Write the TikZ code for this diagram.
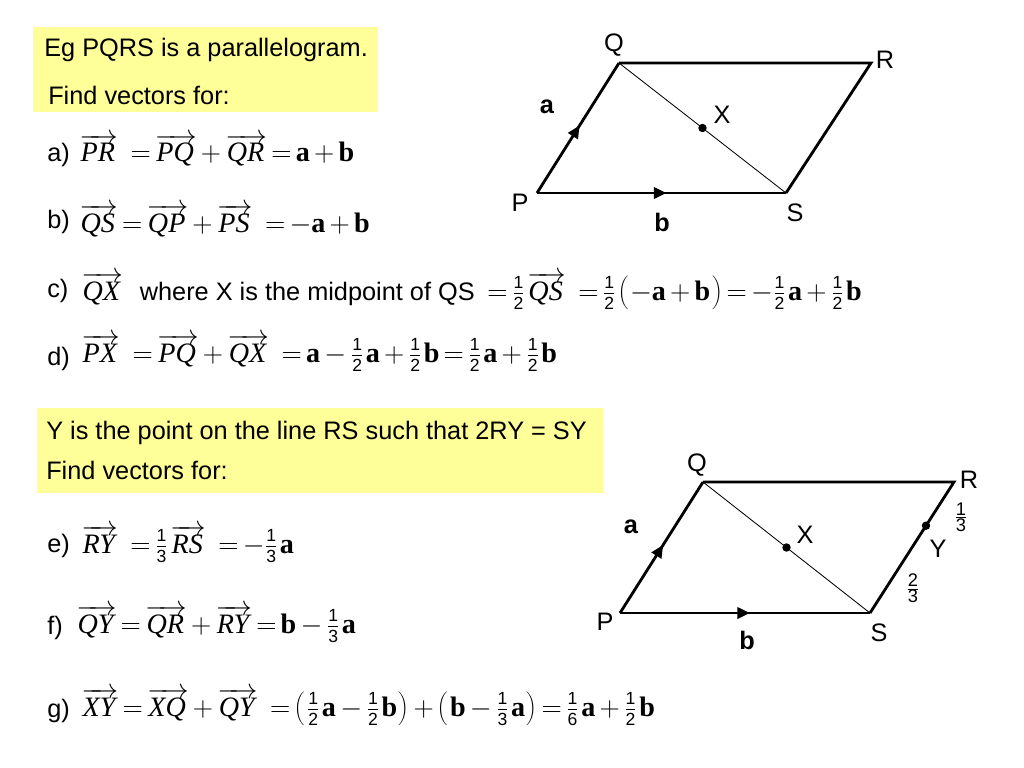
\documentclass[tikz,border=0pt]{standalone}
\usepackage{fix-cm}
\usepackage{fontspec}
\setmainfont{Liberation Sans}
\newfontfamily\tms{Liberation Serif}
\usetikzlibrary{calc,decorations.markings,arrows.meta}

\newcommand\vv[1]{$\overrightarrow{\hbox{\kern1pt\tms\itshape #1\kern2pt}}$}
\newcommand\bv[1]{{\tms\bfseries #1}}
\newcommand\fr[2]{$\frac{\hbox{\fontsize{12.5}{12}\selectfont #1}}{\hbox{\fontsize{12.5}{12}\selectfont #2}}$\kern1.5pt}
\newcommand\op[1]{\hspace{3pt}$#1$\hspace{3pt}}
\newcommand\lp{$\left(\rule[-8pt]{0pt}{25pt}\right.$}
\newcommand\rp{$\left.\rule[-8pt]{0pt}{25pt}\right)$}

\tikzset{
  txt/.style={font=\fontsize{18}{22}\selectfont, inner sep=0pt},
  eqn/.style={font=\fontsize{20}{24}\selectfont, inner sep=0pt, anchor=base west},
  lab/.style={txt, anchor=base west},
  side/.style={line width=2pt},
  diag/.style={line width=0.6pt},
  midarrow/.style={postaction={decorate,decoration={markings,
      mark=at position 0.52 with {\arrow{Triangle[length=9pt,width=8pt]}}}}},
  ptlabel/.style={txt},
  small/.style={font=\fontsize{13}{13}\selectfont, inner sep=0pt}
}

\begin{document}
\begin{tikzpicture}[x=0.025cm,y=-0.025cm]
\definecolor{hl}{rgb}{1,1,0.6}
\useasboundingbox (0,0) rectangle (1024,768);

% first question
\fill[hl] (33,27) rectangle (378,112);
\node[txt,anchor=west] (head1) at (44,50) {Eg PQRS is a parallelogram.};
\node[txt,anchor=west] (find1) at (48,95) {Find vectors for:};

\node[lab] (la) at (47,162) {a)};
\node[eqn] (eqa) at (79,162) {\vv{PR}\hspace{6pt}\op{=}\vv{PQ}\op{+}\vv{QR}\op{=}\bv{a}\op{+}\bv{b}};

\node[lab] (lb) at (47,228) {b)};
\node[eqn] (eqb) at (79,232) {\vv{QS}\op{=}\vv{QP}\op{+}\vv{PS}\hspace{6pt}\op{=}$-$\bv{a}\op{+}\bv{b}};

\node[lab] (lc) at (47,297) {c)};
\node[eqn] (eqc) at (81,300) {\vv{QX}\hspace{12pt}{\fontsize{18}{22}\selectfont where X is the midpoint of QS}\hspace{6pt}\op{=}\fr12\vv{QS}\hspace{6pt}\op{=}\fr12\lp$-$\bv{a}\op{+}\bv{b}\rp\op{=}$-$\fr12\bv{a}\op{+}\fr12\bv{b}};

\node[lab] (ld) at (47,365) {d)};
\node[eqn] (eqd) at (81,362) {\vv{PX}\hspace{6pt}\op{=}\vv{PQ}\op{+}\vv{QX}\hspace{6pt}\op{=}\bv{a}\op{-}\fr12\bv{a}\op{+}\fr12\bv{b}\op{=}\fr12\bv{a}\op{+}\fr12\bv{b}};

% second question
\fill[hl] (37,408) rectangle (603,493);
\node[txt,anchor=west] (head2) at (46,433) {Y is the point on the line RS such that 2RY = SY};
\node[txt,anchor=west] (find2) at (46,470) {Find vectors for:};

\node[lab] (le) at (47,552) {e)};
\node[eqn] (eqe) at (81,553) {\vv{RY}\hspace{6pt}\op{=}\fr13\vv{RS}\hspace{6pt}\op{=}$-$\fr13\bv{a}};

\node[lab] (lf) at (47,634) {f)};
\node[eqn] (eqf) at (76,633) {\vv{QY}\op{=}\vv{QR}\op{+}\vv{RY}\op{=}\bv{b}\op{-}\fr13\bv{a}};

\node[lab] (lg) at (47,717) {g)};
\node[eqn] (eqg) at (81,716) {\vv{XY}\op{=}\vv{XQ}\op{+}\vv{QY}\hspace{6pt}\op{=}\lp\fr12\bv{a}\op{-}\fr12\bv{b}\rp\op{+}\lp\bv{b}\op{-}\fr13\bv{a}\rp\op{=}\fr16\bv{a}\op{+}\fr12\bv{b}};

% top parallelogram
\coordinate (P1) at (537,193);
\coordinate (Q1) at (619,63);
\coordinate (R1) at (871,63);
\coordinate (S1) at (786,193);
\coordinate (X1) at ($(Q1)!0.5!(S1)$);
\draw[side,midarrow] (P1) -- (Q1);
\draw[side] (Q1) -- (R1) -- (S1);
\draw[side,midarrow] (P1) -- (S1);
\draw[diag] (Q1) -- (S1);
\fill (X1) circle[radius=3pt];
\node[ptlabel] (nq1) at (614,45) {Q};
\node[ptlabel] (nr1) at (885,60) {R};
\node[ptlabel] (np1) at (520,203) {P};
\node[ptlabel] (ns1) at (795,213) {S};
\node[ptlabel] (nx1) at (722,115) {X};
\node[ptlabel,font=\fontsize{18}{22}\selectfont\bfseries] (na1) at (547,107) {a};
\node[ptlabel,font=\fontsize{18}{22}\selectfont\bfseries] (nb1) at (662,222) {b};

% bottom parallelogram
\coordinate (P2) at (620,613);
\coordinate (Q2) at (703,482);
\coordinate (R2) at (954,482);
\coordinate (S2) at (870,613);
\coordinate (X2) at ($(Q2)!0.5!(S2)$);
\coordinate (Y2) at ($(R2)!0.3333!(S2)$);
\draw[side,midarrow] (P2) -- (Q2);
\draw[side] (Q2) -- (R2) -- (S2);
\draw[side,midarrow] (P2) -- (S2);
\draw[diag] (Q2) -- (S2);
\fill (X2) circle[radius=3pt];
\fill (Y2) circle[radius=3pt];
\node[ptlabel] (nq2) at (697,465) {Q};
\node[ptlabel] (nr2) at (969,480) {R};
\node[ptlabel] (np2) at (605,622) {P};
\node[ptlabel] (ns2) at (879,633) {S};
\node[ptlabel] (nx2) at (805,535) {X};
\node[ptlabel] (ny2) at (938,549) {Y};
\node[ptlabel,font=\fontsize{18}{22}\selectfont\bfseries] (na2) at (631,527) {a};
\node[ptlabel,font=\fontsize{18}{22}\selectfont\bfseries] (nb2) at (747,640) {b};
\node[small] (third) at (961,517) {$\frac{\hbox{\fontsize{13}{13}\selectfont 1}}{\hbox{\fontsize{13}{13}\selectfont 3}}$};
\node[small] (twothird) at (913,588) {$\frac{\hbox{\fontsize{13}{13}\selectfont 2}}{\hbox{\fontsize{13}{13}\selectfont 3}}$};
\end{tikzpicture}
\end{document}
